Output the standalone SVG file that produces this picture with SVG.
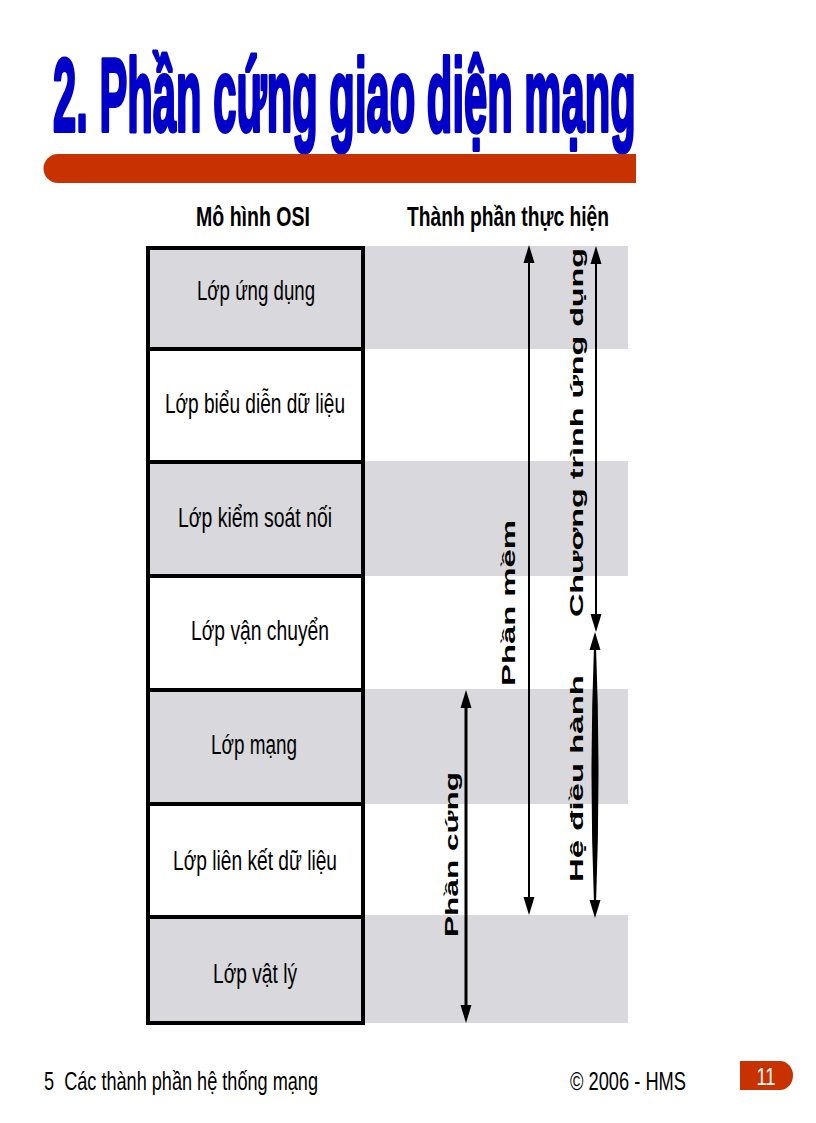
<svg xmlns="http://www.w3.org/2000/svg" width="816" height="1123" viewBox="0 0 816 1123">
<style>
.title{font-family:"Liberation Sans",Arial,sans-serif;font-weight:bold;font-size:103px;fill:#0000C8;stroke:#0000C8;stroke-width:4;stroke-linejoin:round}
.hdr{font-family:"Liberation Sans",Arial,sans-serif;font-weight:bold;font-size:27px;fill:#000}
.cell{font-family:"Liberation Sans",Arial,sans-serif;font-size:27px;fill:#000;text-anchor:middle}
.rot{font-family:"Liberation Sans",Arial,sans-serif;font-weight:bold;font-size:19px;fill:#000;text-anchor:middle}
.foot{font-family:"Liberation Sans",Arial,sans-serif;font-size:26px;fill:#000}
.gray{fill:#D9D9DD}
.box{stroke:#000;stroke-width:4}
.ln{stroke:#000;fill:none}
.hd{fill:#000}
</style>
<rect width="816" height="1123" fill="#fff"/>
<g id="title">
<g transform="translate(53,0) scale(0.4,1)">
<text class="title" x="0" y="131" textLength="1457" lengthAdjust="spacingAndGlyphs">2. Phần cứng giao diện mạng</text>
</g>
<path d="M58,154 H636 V183 H58 A14.5,14.5 0 0 1 58,154 Z" fill="#C83200"/>
</g>
<g id="headers">
<text class="hdr" x="196" y="226" textLength="114" lengthAdjust="spacingAndGlyphs">Mô hình OSI</text>
<text class="hdr" x="407" y="226" textLength="202" lengthAdjust="spacingAndGlyphs">Thành phần thực hiện</text>
</g>
<g id="bands">
<rect class="gray" x="363" y="246" width="265" height="103"/>
<rect class="gray" x="363" y="461" width="265" height="115"/>
<rect class="gray" x="363" y="689" width="265" height="115"/>
<rect class="gray" x="363" y="915" width="265" height="108"/>
</g>
<g id="layer1"><rect class="gray box" x="148" y="248" width="215" height="101"/><text class="cell" x="256" y="300" textLength="118" lengthAdjust="spacingAndGlyphs">Lớp ứng dụng</text></g>
<g id="layer2"><rect class="box" fill="#fff" x="148" y="349" width="215" height="113"/><text class="cell" x="255" y="413" textLength="180" lengthAdjust="spacingAndGlyphs">Lớp biểu diễn dữ liệu</text></g>
<g id="layer3"><rect class="gray box" x="148" y="462" width="215" height="114"/><text class="cell" x="255" y="527" textLength="154" lengthAdjust="spacingAndGlyphs">Lớp kiểm soát nối</text></g>
<g id="layer4"><rect class="box" fill="#fff" x="148" y="576" width="215" height="114"/><text class="cell" x="260" y="640" textLength="138" lengthAdjust="spacingAndGlyphs">Lớp vận chuyển</text></g>
<g id="layer5"><rect class="gray box" x="148" y="690" width="215" height="114"/><text class="cell" x="254" y="754" textLength="86" lengthAdjust="spacingAndGlyphs">Lớp mạng</text></g>
<g id="layer6"><rect class="box" fill="#fff" x="148" y="804" width="215" height="113"/><text class="cell" x="255" y="870" textLength="164" lengthAdjust="spacingAndGlyphs">Lớp liên kết dữ liệu</text></g>
<g id="layer7"><rect class="gray box" x="148" y="917" width="215" height="106"/><text class="cell" x="255" y="983" textLength="84" lengthAdjust="spacingAndGlyphs">Lớp vật lý</text></g>
<g id="connectors">
<line class="ln" stroke-width="2" x1="529" y1="260" x2="529" y2="900"/>
<polygon class="hd" points="529,245 523.5,263 534.5,263"/>
<polygon class="hd" points="529,915 523.5,897 534.5,897"/>
<line class="ln" stroke-width="2" x1="596" y1="260" x2="596" y2="616"/>
<polygon class="hd" points="596,246 590.5,264 601.5,264"/>
<polygon class="hd" points="596,632 590.5,614 601.5,614"/>
<path class="hd" d="M595,646 Q600,775 595,904 Q590,775 595,646 Z" stroke="#000" stroke-width="2"/>
<polygon class="hd" points="595,632 589.5,650 600.5,650"/>
<polygon class="hd" points="595,918 589.5,900 600.5,900"/>
<line class="ln" stroke-width="3" x1="466" y1="704" x2="466" y2="1008"/>
<polygon class="hd" points="466,690 460.5,708 471.5,708"/>
<polygon class="hd" points="466,1023 460.5,1005 471.5,1005"/>
</g>
<g id="labels">
<text class="rot" transform="translate(515,603) rotate(-90)" textLength="166" lengthAdjust="spacingAndGlyphs">Phần mềm</text>
<text class="rot" transform="translate(583,432.5) rotate(-90)" textLength="369" lengthAdjust="spacingAndGlyphs">Chương trình ứng dụng</text>
<text class="rot" transform="translate(583,778.5) rotate(-90)" textLength="207" lengthAdjust="spacingAndGlyphs">Hệ điều hành</text>
<text class="rot" transform="translate(458,854.5) rotate(-90)" textLength="165" lengthAdjust="spacingAndGlyphs">Phần cứng</text>
</g>
<g id="footer">
<text class="foot" x="44" y="1090" textLength="274" lengthAdjust="spacingAndGlyphs" xml:space="preserve">5  Các thành phần hệ thống mạng</text>
<text class="foot" x="570" y="1090" textLength="116" lengthAdjust="spacingAndGlyphs">© 2006 - HMS</text>
<path d="M740,1061 H780 A13,14.5 0 0 1 780,1090 H740 Z" fill="#C83200"/>
<text x="766" y="1085" font-family="'Liberation Sans',Arial,sans-serif" font-size="24" fill="#fff" text-anchor="middle" textLength="19" lengthAdjust="spacingAndGlyphs">11</text>
</g>
</svg>
